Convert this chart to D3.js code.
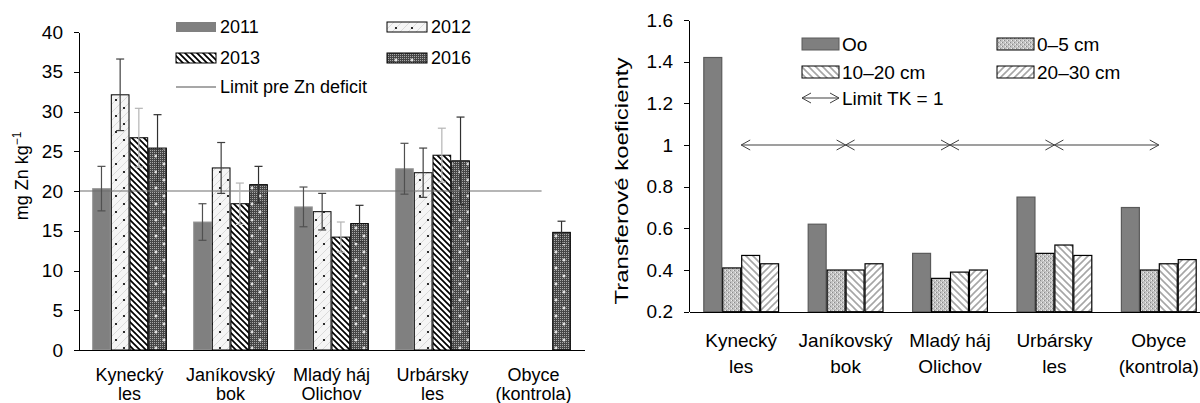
<!DOCTYPE html>
<html>
<head>
<meta charset="utf-8">
<title>Zn a transferové koeficienty</title>
<style>
  body { margin: 0; background: #fff; }
  svg text { font-family: "Liberation Sans", Arial, sans-serif; fill: #000; }
  .axis path, .axis line { stroke: #000; shape-rendering: crispEdges; }
</style>
</head>
<body>
<svg id="chart" width="1200" height="403"></svg>
<script src="https://d3js.org/d3.v7.min.js"></script>
<script>
// site names (two lines each)
var sites = [["Kynecký", "les"], ["Janíkovský", "bok"], ["Mladý háj", "Olichov"], ["Urbársky", "les"], ["Obyce", "(kontrola)"]];
var siteKeys = sites.map(function(d) { return d.join(" "); });

// left chart: Zn content, mg/kg
var years = ["2011", "2012", "2013", "2016"];
var zn2011 = [20.3, 16.1, 18.0, 22.8, null];
var zn2012 = [32.1, 22.9, 17.4, 22.3, null];
var zn2013 = [26.7, 18.4, 14.2, 24.5, null];
var zn2016 = [25.4, 20.8, 15.9, 23.8, 14.8];
var err2011 = [2.8, 2.3, 2.5, 3.2, null];
var err2012 = [4.5, 3.2, 2.3, 3.1, null];
var err2013 = [3.7, 2.6, 1.9, 3.4, null];
var err2016 = [4.2, 2.3, 2.3, 5.5, 1.4];
var znLimit = 20;
var yTicksL = [0, 5, 10, 15, 20, 25, 30, 35, 40];

// right chart: transfer coefficients
var depths = ["Oo", "0–5 cm", "10–20 cm", "20–30 cm"];
var tkOo = [1.42, 0.62, 0.48, 0.75, 0.70];
var tk05 = [0.41, 0.40, 0.36, 0.48, 0.40];
var tk1020 = [0.47, 0.40, 0.39, 0.52, 0.43];
var tk2030 = [0.43, 0.43, 0.40, 0.47, 0.45];
var tkLimit = 1;
var yTicksR = [0.2, 0.4, 0.6, 0.8, 1, 1.2, 1.4, 1.6];
var yTickLabelsR = ["0.2", "0.4", "0.6", "0.8", "1", "1.2", "1.4", "1.6"];

var svg = d3.select("#chart");
var defs = svg.append("defs");

// ---- fill patterns ----
function pattern(id, w, h) {
  return defs.append("pattern").attr("id", id)
    .attr("patternUnits", "userSpaceOnUse").attr("width", w).attr("height", h);
}
// 2012: light, faint diagonals, sparse black dots
var p = pattern("p2012", 16, 16);
p.append("rect").attr("width", 16).attr("height", 16).attr("fill", "#f5f5f5");
p.append("path").attr("d", "M0,8 L8,0 M0,16 L16,0 M8,16 L16,8").attr("stroke", "#dadada").attr("stroke-width", 1);
p.append("circle").attr("cx", 4).attr("cy", 4).attr("r", 1.1).attr("fill", "#000");
p.append("circle").attr("cx", 12).attr("cy", 12).attr("r", 1.1).attr("fill", "#000");
// 2013: black wide downward diagonals
p = pattern("p2013", 6, 6);
p.append("rect").attr("width", 6).attr("height", 6).attr("fill", "#fff");
p.append("path").attr("d", "M-1,-1 L7,7 M-1,5 L1,7 M5,-1 L7,1").attr("stroke", "#000").attr("stroke-width", 1.7);
// 2016: dark checker with white pluses
p = pattern("p2016", 16, 16);
p.append("rect").attr("width", 16).attr("height", 16).attr("fill", "#464646");
for (var i = 0; i < 8; i++) {
  for (var j = 0; j < 8; j++) {
    p.append("rect").attr("x", i * 2).attr("y", j * 2).attr("width", 1).attr("height", 1).attr("fill", "#a8a8a8");
  }
}
p.append("path").attr("d", "M2.5,4 h3 M4,2.5 v3 M10.5,12 h3 M12,10.5 v3").attr("stroke", "#fff").attr("stroke-width", 1.2);
// 0-5 cm: fine gray checker
p = pattern("p05", 4, 4);
p.append("rect").attr("width", 4).attr("height", 4).attr("fill", "#c2c2c2");
p.append("rect").attr("x", 0).attr("y", 0).attr("width", 1).attr("height", 1).attr("fill", "#8a8a8a");
p.append("rect").attr("x", 2).attr("y", 2).attr("width", 1).attr("height", 1).attr("fill", "#8a8a8a");
p.append("rect").attr("x", 3).attr("y", 0).attr("width", 1).attr("height", 1).attr("fill", "#eeeeee");
p.append("rect").attr("x", 1).attr("y", 2).attr("width", 1).attr("height", 1).attr("fill", "#eeeeee");
// 10-20 cm: gray downward diagonals
p = pattern("p1020", 7, 7);
p.append("rect").attr("width", 7).attr("height", 7).attr("fill", "#fff");
p.append("path").attr("d", "M-1,-1 L8,8 M-1,6 L1,8 M6,-1 L8,1").attr("stroke", "#a6a6a6").attr("stroke-width", 1.6);
// 20-30 cm: gray upward diagonals
p = pattern("p2030", 7, 7);
p.append("rect").attr("width", 7).attr("height", 7).attr("fill", "#fff");
p.append("path").attr("d", "M-1,8 L8,-1 M-1,1 L1,-1 M6,8 L8,6").attr("stroke", "#a6a6a6").attr("stroke-width", 1.6);

// open arrow head, drawn pointing along the line
defs.append("marker").attr("id", "arr")
  .attr("viewBox", "-10 -6 11 12").attr("refX", 0).attr("refY", 0)
  .attr("markerWidth", 11).attr("markerHeight", 12).attr("markerUnits", "userSpaceOnUse")
  .attr("orient", "auto-start-reverse")
  .append("path").attr("d", "M-9,-5 L0,0 L-9,5").attr("fill", "none").attr("stroke", "#404040").attr("stroke-width", 1);

// =================== LEFT CHART ===================
var L = {left: 79, right: 584, top: 32, bottom: 350};
var fsL = 18;
var x0L = d3.scaleBand().domain(siteKeys).range([L.left, L.right]);
var x1L = d3.scaleBand().domain(years).range([x0L.bandwidth() * 0.13, x0L.bandwidth() * 0.87]);
var yL = d3.scaleLinear().domain([0, 40]).range([L.bottom, L.top]);

var znSeries = [
  {key: "2011", vals: zn2011, errs: err2011, fill: "#808080", stroke: "#9a9a9a", err: "#505050"},
  {key: "2012", vals: zn2012, errs: err2012, fill: "url(#p2012)", stroke: "#000", err: "#404040"},
  {key: "2013", vals: zn2013, errs: err2013, fill: "url(#p2013)", stroke: "#000", err: "#b4b4b4"},
  {key: "2016", vals: zn2016, errs: err2016, fill: "url(#p2016)", stroke: "#000", err: "#303030"}
];

var gL = svg.append("g");
znSeries.forEach(function(s) {
  var rows = siteKeys.map(function(k, i) { return {site: k, v: s.vals[i], e: s.errs[i]}; })
    .filter(function(d) { return d.v != null; });
  gL.selectAll(null).data(rows).enter().append("rect")
    .attr("x", function(d) { return x0L(d.site) + x1L(s.key) + 0.5; })
    .attr("y", function(d) { return yL(d.v); })
    .attr("width", x1L.bandwidth() - 1)
    .attr("height", function(d) { return yL(0) - yL(d.v); })
    .attr("fill", s.fill).attr("stroke", s.stroke).attr("stroke-width", 1);
});

// limit line
gL.append("line")
  .attr("x1", L.left)
  .attr("x2", x0L(siteKeys[4]) + x0L.bandwidth() * 0.58)
  .attr("y1", yL(znLimit)).attr("y2", yL(znLimit))
  .attr("stroke", "#6e6e6e").attr("stroke-width", 1.2);

// error bars
znSeries.forEach(function(s) {
  var rows = siteKeys.map(function(k, i) { return {site: k, v: s.vals[i], e: s.errs[i]}; })
    .filter(function(d) { return d.v != null; });
  var eg = gL.selectAll(null).data(rows).enter().append("g")
    .attr("stroke", s.err).attr("stroke-width", 1.2);
  var cx = function(d) { return x0L(d.site) + x1L(s.key) + x1L.bandwidth() / 2; };
  eg.append("line").attr("x1", cx).attr("x2", cx)
    .attr("y1", function(d) { return yL(d.v + d.e); }).attr("y2", function(d) { return yL(d.v - d.e); });
  eg.append("line").attr("x1", function(d) { return cx(d) - 4; }).attr("x2", function(d) { return cx(d) + 4; })
    .attr("y1", function(d) { return yL(d.v + d.e); }).attr("y2", function(d) { return yL(d.v + d.e); });
  eg.append("line").attr("x1", function(d) { return cx(d) - 4; }).attr("x2", function(d) { return cx(d) + 4; })
    .attr("y1", function(d) { return yL(d.v - d.e); }).attr("y2", function(d) { return yL(d.v - d.e); });
});

// axes
var yAxL = svg.append("g").attr("class", "axis").attr("transform", "translate(" + L.left + ",0)")
  .call(d3.axisLeft(yL).tickValues(yTicksL).tickSize(5).tickSizeOuter(0).tickPadding(11));
yAxL.selectAll("text").style("font-size", "19px").style("font-family", "Liberation Sans, Arial, sans-serif");
svg.append("g").attr("class", "axis").attr("transform", "translate(0," + L.bottom + ")")
  .call(d3.axisBottom(x0L).tickSize(0).tickSizeOuter(0).tickFormat(""))
  .select(".domain").attr("stroke-width", 1.3);

// category labels
sites.forEach(function(s, i) {
  var t = svg.append("text").attr("text-anchor", "middle").style("font-size", fsL + "px")
    .attr("x", x0L(siteKeys[i]) + x0L.bandwidth() / 2).attr("y", L.bottom + 31);
  t.append("tspan").text(s[0]);
  t.append("tspan").attr("x", x0L(siteKeys[i]) + x0L.bandwidth() / 2).attr("dy", 19).text(s[1]);
});

// y title
var tl = svg.append("text").attr("text-anchor", "middle").style("font-size", "18px")
  .attr("transform", "translate(28,176) rotate(-90)");
tl.append("tspan").text("mg Zn kg");
tl.append("tspan").attr("dy", -7).style("font-size", "12px").text("−1");

// legend
var legL = [
  {key: "2011", x: 176, y: 27},
  {key: "2012", x: 387, y: 27},
  {key: "2013", x: 176, y: 58},
  {key: "2016", x: 387, y: 58}
];
legL.forEach(function(l) {
  var s = znSeries.find(function(d) { return d.key === l.key; });
  svg.append("rect").attr("x", l.x).attr("y", l.y - 5).attr("width", 40).attr("height", 10)
    .attr("fill", s.fill).attr("stroke", s.stroke === "#000" ? "#000" : "none").attr("stroke-width", 1);
  svg.append("text").attr("x", l.x + 44).attr("y", l.y).attr("dy", "0.35em").style("font-size", fsL + "px").text(l.key);
});
svg.append("line").attr("x1", 176).attr("x2", 216).attr("y1", 87).attr("y2", 87).attr("stroke", "#505050").attr("stroke-width", 1.2);
svg.append("text").attr("x", 220).attr("y", 87).attr("dy", "0.35em").style("font-size", fsL + "px").text("Limit pre Zn deficit");

// =================== RIGHT CHART ===================
var R = {left: 689, right: 1211, top: 20, bottom: 311.7};
var fsR = 19;
var x0R = d3.scaleBand().domain(siteKeys).range([R.left, R.right]);
var x1R = d3.scaleBand().domain(depths).range([x0R.bandwidth() * 0.137, x0R.bandwidth() * 0.863]);
var yR = d3.scaleLinear().domain([0.2, 1.6]).range([R.bottom, R.top]);

var tkSeries = [
  {key: "Oo", vals: tkOo, fill: "#7f7f7f", stroke: "#5a5a5a"},
  {key: "0–5 cm", vals: tk05, fill: "url(#p05)", stroke: "#000"},
  {key: "10–20 cm", vals: tk1020, fill: "url(#p1020)", stroke: "#000"},
  {key: "20–30 cm", vals: tk2030, fill: "url(#p2030)", stroke: "#000"}
];

var gR = svg.append("g");
tkSeries.forEach(function(s) {
  var rows = siteKeys.map(function(k, i) { return {site: k, v: s.vals[i]}; });
  gR.selectAll(null).data(rows).enter().append("rect")
    .attr("x", function(d) { return x0R(d.site) + x1R(s.key) + 0.5; })
    .attr("y", function(d) { return yR(d.v); })
    .attr("width", x1R.bandwidth() - 1)
    .attr("height", function(d) { return yR(0.2) - yR(d.v); })
    .attr("fill", s.fill).attr("stroke", s.stroke).attr("stroke-width", 1.2);
});

// TK = 1 arrows between site centres
for (var k = 0; k < siteKeys.length - 1; k++) {
  gR.append("line")
    .attr("x1", x0R(siteKeys[k]) + x0R.bandwidth() / 2)
    .attr("x2", x0R(siteKeys[k + 1]) + x0R.bandwidth() / 2)
    .attr("y1", yR(tkLimit)).attr("y2", yR(tkLimit))
    .attr("stroke", "#404040").attr("stroke-width", 1.2)
    .attr("marker-start", "url(#arr)").attr("marker-end", "url(#arr)");
}

var yAxR = svg.append("g").attr("class", "axis").attr("transform", "translate(" + R.left + ",0)")
  .call(d3.axisLeft(yR).tickValues(yTicksR).tickSize(5).tickSizeOuter(0).tickPadding(11)
    .tickFormat(function(d, i) { return yTickLabelsR[i]; }));
yAxR.selectAll("text").style("font-size", fsR + "px").style("font-family", "Liberation Sans, Arial, sans-serif");
svg.append("g").attr("class", "axis").attr("transform", "translate(0," + R.bottom + ")")
  .call(d3.axisBottom(x0R).tickSize(0).tickSizeOuter(0).tickFormat(""))
  .select(".domain").attr("stroke-width", 1.3);

sites.forEach(function(s, i) {
  var t = svg.append("text").attr("text-anchor", "middle").style("font-size", fsR + "px")
    .attr("x", x0R(siteKeys[i]) + x0R.bandwidth() / 2).attr("y", R.bottom + 35);
  t.append("tspan").text(s[0]);
  t.append("tspan").attr("x", x0R(siteKeys[i]) + x0R.bandwidth() / 2).attr("dy", 26).text(s[1]);
});

svg.append("text").attr("text-anchor", "middle").style("font-size", fsR + "px")
  .attr("transform", "translate(628,181) rotate(-90)")
  .attr("textLength", 247).attr("lengthAdjust", "spacingAndGlyphs")
  .text("Transferové koeficienty");

// legend
var legR = [
  {key: "Oo", x: 802, y: 44},
  {key: "0–5 cm", x: 997, y: 44},
  {key: "10–20 cm", x: 802, y: 72},
  {key: "20–30 cm", x: 997, y: 72}
];
legR.forEach(function(l) {
  var s = tkSeries.find(function(d) { return d.key === l.key; });
  svg.append("rect").attr("x", l.x).attr("y", l.y - 6).attr("width", 37).attr("height", 12)
    .attr("fill", s.fill).attr("stroke", s.stroke).attr("stroke-width", 1);
  svg.append("text").attr("x", l.x + 40).attr("y", l.y).attr("dy", "0.35em").style("font-size", fsR + "px").text(l.key);
});
svg.append("line").attr("x1", 802).attr("x2", 839).attr("y1", 98).attr("y2", 98)
  .attr("stroke", "#404040").attr("stroke-width", 1.2)
  .attr("marker-start", "url(#arr)").attr("marker-end", "url(#arr)");
svg.append("text").attr("x", 842).attr("y", 98).attr("dy", "0.35em").style("font-size", fsR + "px").text("Limit TK = 1");
</script>
</body>
</html>
